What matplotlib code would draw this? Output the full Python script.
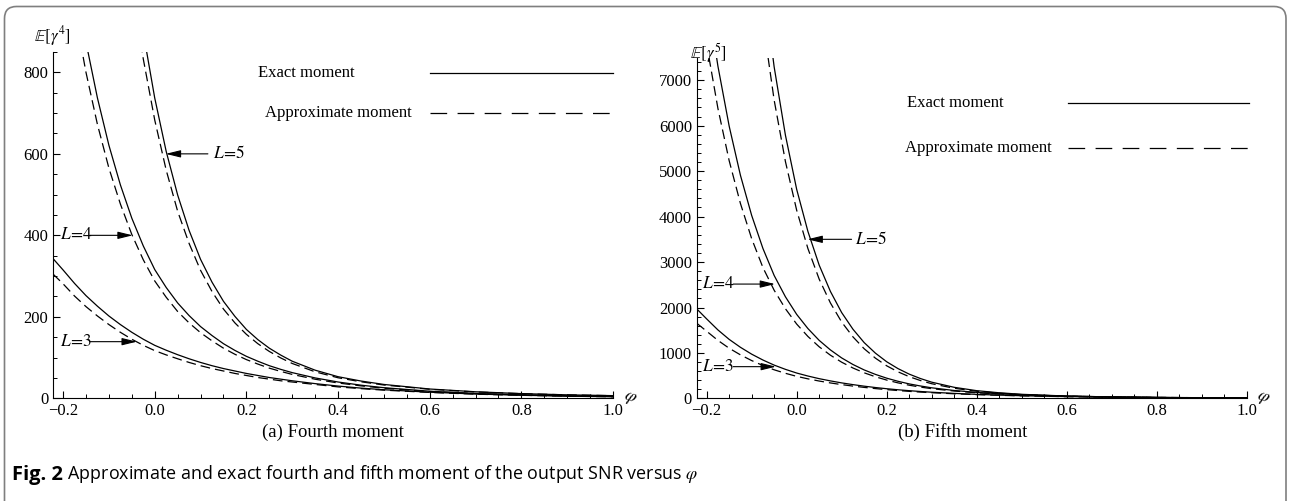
import matplotlib
matplotlib.use('Agg')
import matplotlib.pyplot as plt
from matplotlib.patches import FancyBboxPatch
from matplotlib.transforms import IdentityTransform

# phi grid the values were read at
phi = [-0.222, -0.2, -0.175, -0.15, -0.125, -0.1, -0.075, -0.05, -0.025, 0.0,
       0.025, 0.05, 0.075, 0.1, 0.125, 0.15, 0.175, 0.2, 0.225, 0.25, 0.275, 0.3,
       0.35, 0.4, 0.45, 0.5, 0.6, 0.7, 0.8, 0.9, 1.0]

# (a) fourth moment
exact4_L3 = [343, 315, 282, 252, 226, 202, 181, 162, 145, 130, 118, 107, 97, 88, 80, 73,
             67, 61, 56, 51, 47, 43, 36, 30, 25, 21, 15, 10.5, 7.5, 5.3, 3.8]
approx4_L3 = [305, 281, 251, 225, 202, 181, 162, 145, 130, 117, 106.5, 97, 88, 80, 73, 67,
              61, 56, 51, 47, 43, 40, 34, 28, 23.7, 20, 14.4, 10.1, 7.3, 5.2, 3.7]
exact4_L4 = [1437, 1233, 1038, 874, 737, 621, 524, 442, 374, 316, 272, 234, 203, 176, 154, 134,
             117.5, 103, 91, 80, 71, 63, 50, 40, 32.2, 26, 17.4, 12, 8.5, 6.1, 4.5]
approx4_L4 = [1322, 1134, 952, 800, 672, 565, 477, 402, 340, 288, 248, 213, 185, 161, 141, 123,
              108, 95, 84, 74, 66, 58.6, 46.8, 37.6, 30.5, 24.7, 16.7, 11.6, 8.3, 6.0, 4.4]
exact4_L5 = [4300, 3630, 2973, 2435, 1993, 1632, 1336, 1094, 898, 737, 606, 499, 412, 341, 285, 238,
             201, 169, 144, 123, 106, 91, 69, 53, 42.4, 34, 22.8, 16, 11.5, 8.5, 6.5]
approx4_L5 = [4000, 3376, 2765, 2265, 1854, 1518, 1242, 1017, 833, 683, 560, 459, 380, 314, 262, 219,
              185, 157, 134, 115, 99, 85.5, 65, 50.4, 40.5, 32.6, 22.1, 15.6, 11.3, 8.4, 6.4]

# (b) fifth moment
exact5_L3 = [1970, 1750, 1508, 1300, 1126, 975, 846, 734, 641, 560, 494, 436, 387, 343, 305, 271,
             241, 215, 192, 172, 154, 138, 112, 91, 74.5, 61, 41.5, 28.6, 20, 14.2, 10.2]
approx5_L3 = [1655, 1479, 1278, 1105, 960, 834, 725, 631, 554, 487, 432, 384, 342, 305, 273, 244,
              218, 195, 175, 157, 141, 127, 104, 85, 70.2, 58, 40, 27.7, 19.6, 14, 10.1]
exact5_L4 = [10500, 8920, 7310, 5990, 4910, 4026, 3300, 2705, 2237, 1850, 1538, 1278, 1068, 892, 748, 628,
             530, 447, 379, 321, 275, 235, 176, 134, 104, 81, 52, 35, 24.5, 17.6, 13]
approx5_L4 = [9170, 7790, 6380, 5230, 4290, 3515, 2880, 2380, 1974, 1637, 1364, 1137, 952, 798, 671, 565,
              478, 405, 344, 292, 251, 216, 164, 125, 98.1, 77, 50, 34, 24, 17.3, 12.9]
exact5_L5 = [37000, 30500, 23946, 18800, 14806, 11660, 9220, 7290, 5791, 4600, 3673, 2933, 2354, 1889,
             1524, 1229, 997, 808, 658, 536, 439, 359, 246, 172, 125.8, 92, 54, 34, 22.5, 15.7, 11.5]
approx5_L5 = [33300, 27450, 21551, 16920, 13323, 10490, 8295, 6560, 5211, 4140, 3297, 2625, 2101, 1681,
              1356, 1094, 887, 719, 587, 480, 395, 325, 225, 159, 116.9, 86, 51, 32.6, 21.8, 15.3, 11.3]

xticks = [-0.2, 0.0, 0.2, 0.4, 0.6, 0.8, 1.0]
xtick_labels = ['\u22120.2', '0.0', '0.2', '0.4', '0.6', '0.8', '1.0']
yticks4 = [0, 200, 400, 600, 800]
yticks5 = [0, 1000, 2000, 3000, 4000, 5000, 6000, 7000]

# arrow labels: (text, tip x, tip y, tail x, text x)
labels4 = [('5', 0.024, 600, 0.116, 0.127),
           ('4', -0.048, 400, -0.142, -0.207),
           ('3', -0.039, 139, -0.142, -0.207)]
labels5 = [('5', 0.024, 3500, 0.122, 0.13),
           ('4', -0.048, 2516, -0.141, -0.211),
           ('3', -0.046, 700, -0.141, -0.211)]

plt.rcParams['font.family'] = 'Liberation Serif'
plt.rcParams['mathtext.fontset'] = 'stix'
plt.rcParams['lines.scale_dashes'] = False

fig = plt.figure(figsize=(12.91, 5.01), dpi=100)
ax1 = fig.add_axes([0.04105, 0.2050, 0.4338, 0.6912])
ax2 = fig.add_axes([0.5397, 0.2046, 0.4260, 0.6790])

curve_dash = (7, 3.6)
legend_dash = (12, 7.5)


def style_axes(ax, ymax, yticks, yminor):
    ax.set_xlim(-0.222, 1.0)
    ax.set_ylim(0, ymax)
    for s in ['top', 'right']:
        ax.spines[s].set_visible(False)
    for s in ['left', 'bottom']:
        ax.spines[s].set_linewidth(0.8)
    ax.set_xticks(xticks, labels=xtick_labels)
    ax.set_xticks([-0.2 + 0.05 * i for i in range(25)], minor=True)
    ax.set_yticks(yticks, labels=[str(t) for t in yticks])
    ax.set_yticks(list(range(0, int(ymax) + 1, yminor)), minor=True)
    ax.tick_params(which='major', direction='in', length=5, width=0.8, labelsize=12, pad=3.5)
    ax.tick_params(which='minor', direction='in', length=2.8, width=0.7)


def draw_panel(ax, series, labels, ymax, yticks, yminor, ylabel, ylab_pos, leg):
    style_axes(ax, ymax, yticks, yminor)
    for ex, ap in series:
        ax.plot(phi, ex, color='black', lw=0.9)
        ax.plot(phi, ap, color='black', lw=0.9, dashes=curve_dash)
    for txt, tx, ty, sx, lx in labels:
        ax.annotate('', xy=(tx, ty), xytext=(sx, ty),
                    arrowprops=dict(arrowstyle='-|>,head_length=0.9,head_width=0.22',
                                    color='black', lw=0.8, shrinkA=0, shrinkB=0))
        ax.text(lx, ty, r'$L\!=\!' + txt + '$', fontsize=12.5, ha='left', va='center')
    ax.text(ylab_pos[0], ylab_pos[1], ylabel, transform=ax.transAxes,
            fontsize=12, ha='center', va='center')
    ax.text(1.03, 0.0, r'$\varphi$', transform=ax.transAxes, fontsize=13,
            ha='center', va='center', rotation=-20)
    (ex_x, ex_y), (ap_x, ap_y), (l0, l1) = leg
    ax.text(ex_x, ex_y, 'Exact moment', transform=ax.transAxes, fontsize=12,
            ha='left', va='center')
    ax.text(ap_x, ap_y, 'Approximate moment', transform=ax.transAxes, fontsize=12,
            ha='left', va='center')
    ax.plot([l0, l1], [ex_y, ex_y], color='black', lw=0.9, transform=ax.transAxes, clip_on=False)
    ax.plot([l0, l1], [ap_y, ap_y], color='black', lw=0.9, dashes=legend_dash,
            transform=ax.transAxes, clip_on=False)


draw_panel(ax1, [(exact4_L3, approx4_L3), (exact4_L4, approx4_L4), (exact4_L5, approx4_L5)],
           labels4, 850, yticks4, 50, r'$\mathbb{E}[\gamma^4]$', (-0.002, 1.046),
           ((0.366, 0.939), (0.379, 0.824), (0.673, 1.0)))
draw_panel(ax2, [(exact5_L3, approx5_L3), (exact5_L4, approx5_L4), (exact5_L5, approx5_L5)],
           labels5, 7480, yticks5, 200, r'$\mathbb{E}[\gamma^5]$', (0.021, 1.015),
           ((0.382, 0.869), (0.379, 0.736), (0.675, 1.004)))

fig.text(333 / 1291, 1 - 432 / 501, '(a) Fourth moment', fontsize=13.5, ha='center', va='center')
fig.text(963 / 1291, 1 - 432 / 501, '(b) Fifth moment', fontsize=13.5, ha='center', va='center')

cap = fig.text(12 / 1291, 1 - 480 / 501, 'Fig. 2', fontsize=14.5, fontweight='bold',
               family='Open Sans', ha='left', va='baseline')
ax1.annotate(' Approximate and exact fourth and fifth moment of the output SNR versus $\\varphi$',
             xy=(1, 0), xycoords=cap, va='bottom', ha='left', fontsize=12.9,
             family='Open Sans', annotation_clip=False)

box = FancyBboxPatch((4.5, -40), 1281.5, 534.5, boxstyle='round,pad=0,rounding_size=12',
                     transform=IdentityTransform(), facecolor='none', edgecolor='#7f7f7f', lw=1.2)
fig.add_artist(box)

fig.savefig('out.png', dpi=100)
